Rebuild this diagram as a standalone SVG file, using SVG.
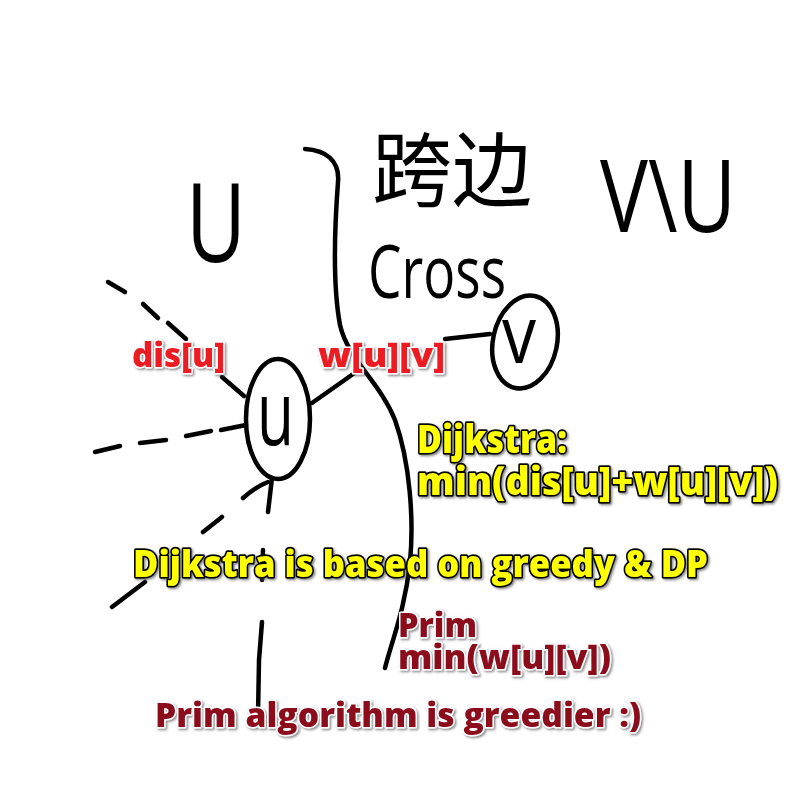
<svg xmlns="http://www.w3.org/2000/svg" width="787" height="811" viewBox="0 0 787 811">
<defs>
<filter id="sh" x="-10%" y="-30%" width="120%" height="160%">
<feDropShadow dx="1.5" dy="1.5" stdDeviation="1" flood-color="#555" flood-opacity="0.7"/>
</filter>
<style>
.ink{fill:none;stroke:#000;stroke-width:4.5;stroke-linecap:round;stroke-linejoin:round}
.hand{font-family:"Open Sans","Liberation Sans","Noto Sans CJK SC",sans-serif;font-weight:400;fill:#000}
.lbl{font-family:"Open Sans","Liberation Sans",sans-serif;font-weight:800;paint-order:stroke;stroke-linejoin:round;filter:url(#sh)}
.red{fill:#ec1c24;stroke:#fff;stroke-width:3}
.yel{fill:#ffff00;stroke:#000;stroke-width:3.5}
.dred{fill:#8b0a1e;stroke:#fff;stroke-width:3}
</style>
</defs>
<rect width="787" height="811" fill="#fff"/>
<g id="connectors">
<path class="ink" d="M305,149 C325,150 340,160 338,182 C335,222 332,282 340,325 C348,360 380,382 395,420 C410,462 414,520 410,562 C405,610 392,640 385,668"/>
<path class="ink" d="M312,403 L356,372"/>
<path class="ink" d="M445,339 L490,334"/>
<path class="ink" d="M108,282 L125,292 M143,304 L158,318 M168,323 L186,339 M222,377 L244,396"/>
<path class="ink" d="M95,452 L120,446 M140,443 L166,440 M186,436 L211,431 M221,430 L246,425"/>
<path class="ink" d="M112,607 L145,582 M203,532 L222,517 M243,498 Q255,487 268,482"/>
<path class="ink" d="M272,478 L268,512 M263,550 L262,580 M262,622 L259,660 L258,715"/>
</g>
<g id="U-set"><text class="hand" x="186" y="262" font-size="110" textLength="60" lengthAdjust="spacingAndGlyphs">U</text></g>
<g id="V-minus-U"><text class="hand" x="600" y="232" font-size="100" textLength="136" lengthAdjust="spacingAndGlyphs">V\U</text></g>
<g id="cross-label">
<text class="hand" x="372" y="200" font-size="82" textLength="160" lengthAdjust="spacingAndGlyphs">跨边</text>
<text class="hand" x="368" y="298" font-size="74" textLength="138" lengthAdjust="spacingAndGlyphs">Cross</text>
</g>
<g id="node-u">
<ellipse class="ink" cx="278" cy="419" rx="32" ry="60"/>
<text class="hand" x="257" y="445" font-size="90" textLength="37" lengthAdjust="spacingAndGlyphs">u</text>
</g>
<g id="node-v">
<ellipse class="ink" cx="525" cy="342" rx="32" ry="47" transform="rotate(12 525 342)"/>
<text class="hand" x="502" y="363" font-size="80" textLength="34" lengthAdjust="spacingAndGlyphs">v</text>
</g>
<g id="labels">
<text class="lbl red" x="132" y="367" font-size="33" textLength="93" lengthAdjust="spacingAndGlyphs">dis[u]</text>
<text class="lbl red" x="318" y="367" font-size="33" textLength="127" lengthAdjust="spacingAndGlyphs">w[u][v]</text>
<text class="lbl yel" x="417" y="453" font-size="38" textLength="150" lengthAdjust="spacingAndGlyphs">Dijkstra:</text>
<text class="lbl yel" x="417" y="495" font-size="38" textLength="361" lengthAdjust="spacingAndGlyphs">min(dis[u]+w[u][v])</text>
<text class="lbl yel" x="133" y="577" font-size="37" textLength="575" lengthAdjust="spacingAndGlyphs">Dijkstra is based on greedy &amp; DP</text>
<text class="lbl dred" x="398" y="637" font-size="33" textLength="79" lengthAdjust="spacingAndGlyphs">Prim</text>
<text class="lbl dred" x="398" y="669" font-size="33" textLength="213" lengthAdjust="spacingAndGlyphs">min(w[u][v])</text>
<text class="lbl dred" x="155" y="727" font-size="33" textLength="486" lengthAdjust="spacingAndGlyphs">Prim algorithm is greedier :)</text>
</g>
</svg>
